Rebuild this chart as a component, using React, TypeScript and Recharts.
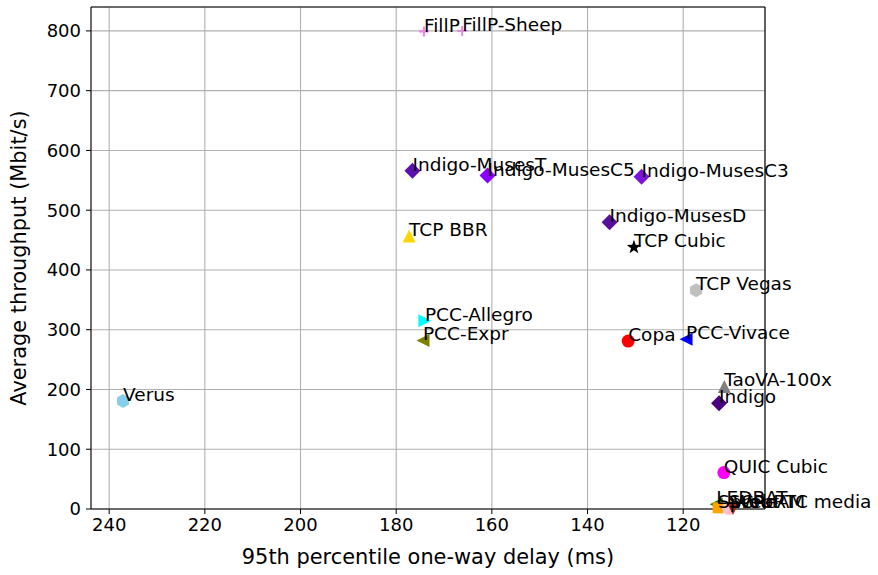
import React from 'react';
import {
  ScatterChart,
  Scatter,
  XAxis,
  YAxis,
  CartesianGrid,
  ReferenceLine,
  Label
} from 'recharts';

const schemes = [
  'Verus', 'FillP', 'FillP-Sheep', 'Indigo-MusesT', 'Indigo-MusesC5', 'Indigo-MusesC3',
  'TCP BBR', 'Indigo-MusesD', 'TCP Cubic', 'TCP Vegas', 'Copa', 'PCC-Vivace',
  'TaoVA-100x', 'Indigo', 'PCC-Allegro', 'PCC-Expr', 'QUIC Cubic', 'LEDBAT',
  'Sprout', 'SCReAM', 'WebRTC media'
];
const delays = [
  237.1, 174.2, 166.2, 176.6, 160.9, 128.7,
  177.3, 135.4, 130.3, 117.3, 131.5, 119.4,
  111.4, 112.5, 174.0, 174.4, 111.5, 113.1,
  112.7, 110.5, 109.6
];
const throughputs = [
  180.7, 799, 800, 566, 558, 556,
  457, 480, 438, 366, 281, 284,
  205, 177, 315, 282, 61, 8,
  2, 1, 1
];
const markerKinds = [
  'hexagon', 'plus', 'plus', 'diamond', 'diamond', 'diamond',
  'triUp', 'diamond', 'star', 'hexagon', 'circle', 'triLeft',
  'triUp', 'diamond', 'triRight', 'triLeft', 'circle', 'triLeft',
  'square', 'circle', 'triDown'
];
const markerColors = [
  '#87ceeb', '#ee82ee', '#dd88dd', '#5c0fb3', '#8a00ff', '#7a14dc',
  '#ffd700', '#590f9e', '#000000', '#c0c0c0', '#ff0000', '#0000ff',
  '#808080', '#4b0082', '#00ffff', '#808000', '#ff00ff', '#008000',
  '#ffa500', '#ffc0cb', '#a52a2a'
];

const xTicks = [240, 220, 200, 180, 160, 140, 120];
const yTicks = [0, 100, 200, 300, 400, 500, 600, 700, 800];
const xDomain = [102.9, 243.8];
const yDomain = [0, 840];

const FONT = '"DejaVu Sans", sans-serif';

const poly = (pts: number[][]) => pts.map((p) => p.join(',')).join(' ');

const MarkerShape = (props: any) => {
  const { cx, cy, kind, color } = props;
  if (cx == null || cy == null) return null;
  switch (kind) {
    case 'circle':
      return <circle cx={cx} cy={cy} r={6.5} fill={color} />;
    case 'square':
      return <rect x={cx - 5.5} y={cy - 5.5} width={11} height={11} fill={color} />;
    case 'diamond': {
      const r = 8;
      return <polygon points={poly([[cx, cy - r], [cx + r, cy], [cx, cy + r], [cx - r, cy]])} fill={color} />;
    }
    case 'triUp': {
      const r = 6.5;
      return <polygon points={poly([[cx, cy - r], [cx + r, cy + r], [cx - r, cy + r]])} fill={color} />;
    }
    case 'triDown': {
      const r = 6.5;
      return <polygon points={poly([[cx, cy + r], [cx + r, cy - r], [cx - r, cy - r]])} fill={color} />;
    }
    case 'triLeft': {
      const r = 6.5;
      return <polygon points={poly([[cx - r, cy], [cx + r, cy - r], [cx + r, cy + r]])} fill={color} />;
    }
    case 'triRight': {
      const r = 6.5;
      return <polygon points={poly([[cx + r, cy], [cx - r, cy - r], [cx - r, cy + r]])} fill={color} />;
    }
    case 'hexagon': {
      const r = 7;
      const pts: number[][] = [];
      for (let i = 0; i < 6; i++) {
        const a = -Math.PI / 2 + (i * Math.PI) / 3;
        pts.push([cx + r * Math.cos(a), cy + r * Math.sin(a)]);
      }
      return <polygon points={poly(pts)} fill={color} />;
    }
    case 'star': {
      const pts: number[][] = [];
      for (let i = 0; i < 10; i++) {
        const r = i % 2 === 0 ? 7.5 : 3;
        const a = -Math.PI / 2 + (i * Math.PI) / 5;
        pts.push([cx + r * Math.cos(a), cy + r * Math.sin(a)]);
      }
      return <polygon points={poly(pts)} fill={color} />;
    }
    case 'plus':
      return (
        <g stroke={color} strokeWidth={2}>
          <line x1={cx - 5} y1={cy} x2={cx + 5} y2={cy} />
          <line x1={cx} y1={cy - 5} x2={cx} y2={cy + 5} />
        </g>
      );
    default:
      return null;
  }
};

const LabelShape = (props: any) => {
  const { cx, cy, payload } = props;
  if (cx == null || cy == null) return null;
  return (
    <text x={cx} y={cy} fontSize={18.5} fontFamily={FONT} fill="#000" textAnchor="start">
      {payload.name}
    </text>
  );
};

const points = schemes.map((name, i) => ({ name, x: delays[i], y: throughputs[i] }));

const App = () => {
  return (
    <div style={{ position: 'absolute', left: 0, top: 0, width: 878, height: 575, background: '#fff' }}>
      <ScatterChart
        width={878}
        height={575}
        margin={{ top: 7, right: 113, bottom: 0, left: 0 }}
        style={{ fontFamily: FONT }}
      >
        <CartesianGrid stroke="#b0b0b0" strokeWidth={1.1} />
        <XAxis
          type="number"
          dataKey="x"
          domain={xDomain}
          ticks={xTicks}
          reversed
          height={66}
          tickSize={5}
          tickMargin={4}
          stroke="#000"
          tick={{ fill: '#000', fontSize: 18, fontFamily: FONT }}
        >
          <Label
            value="95th percentile one-way delay (ms)"
            position="insideBottom"
            offset={11}
            style={{ fontSize: 20.9, fontFamily: FONT, fill: '#000' }}
          />
        </XAxis>
        <YAxis
          type="number"
          dataKey="y"
          domain={yDomain}
          ticks={yTicks}
          width={91}
          tickSize={5}
          tickMargin={5}
          stroke="#000"
          tick={{ fill: '#000', fontSize: 18, fontFamily: FONT }}
        >
          <Label
            value="Average throughput (Mbit/s)"
            angle={-90}
            position="insideLeft"
            offset={19}
            style={{ fontSize: 20.9, fontFamily: FONT, fill: '#000', textAnchor: 'middle' }}
          />
        </YAxis>
        <ReferenceLine y={yDomain[1]} stroke="#000" strokeWidth={1.1} />
        <ReferenceLine x={xDomain[0]} stroke="#000" strokeWidth={1.1} />
        {points.map((p, i) => (
          <Scatter
            key={p.name}
            data={[p]}
            isAnimationActive={false}
            shape={(props: any) => (
              <MarkerShape {...props} kind={markerKinds[i]} color={markerColors[i]} />
            )}
          />
        ))}
        <Scatter data={points} isAnimationActive={false} shape={LabelShape} />
      </ScatterChart>
    </div>
  );
};

export default App;
